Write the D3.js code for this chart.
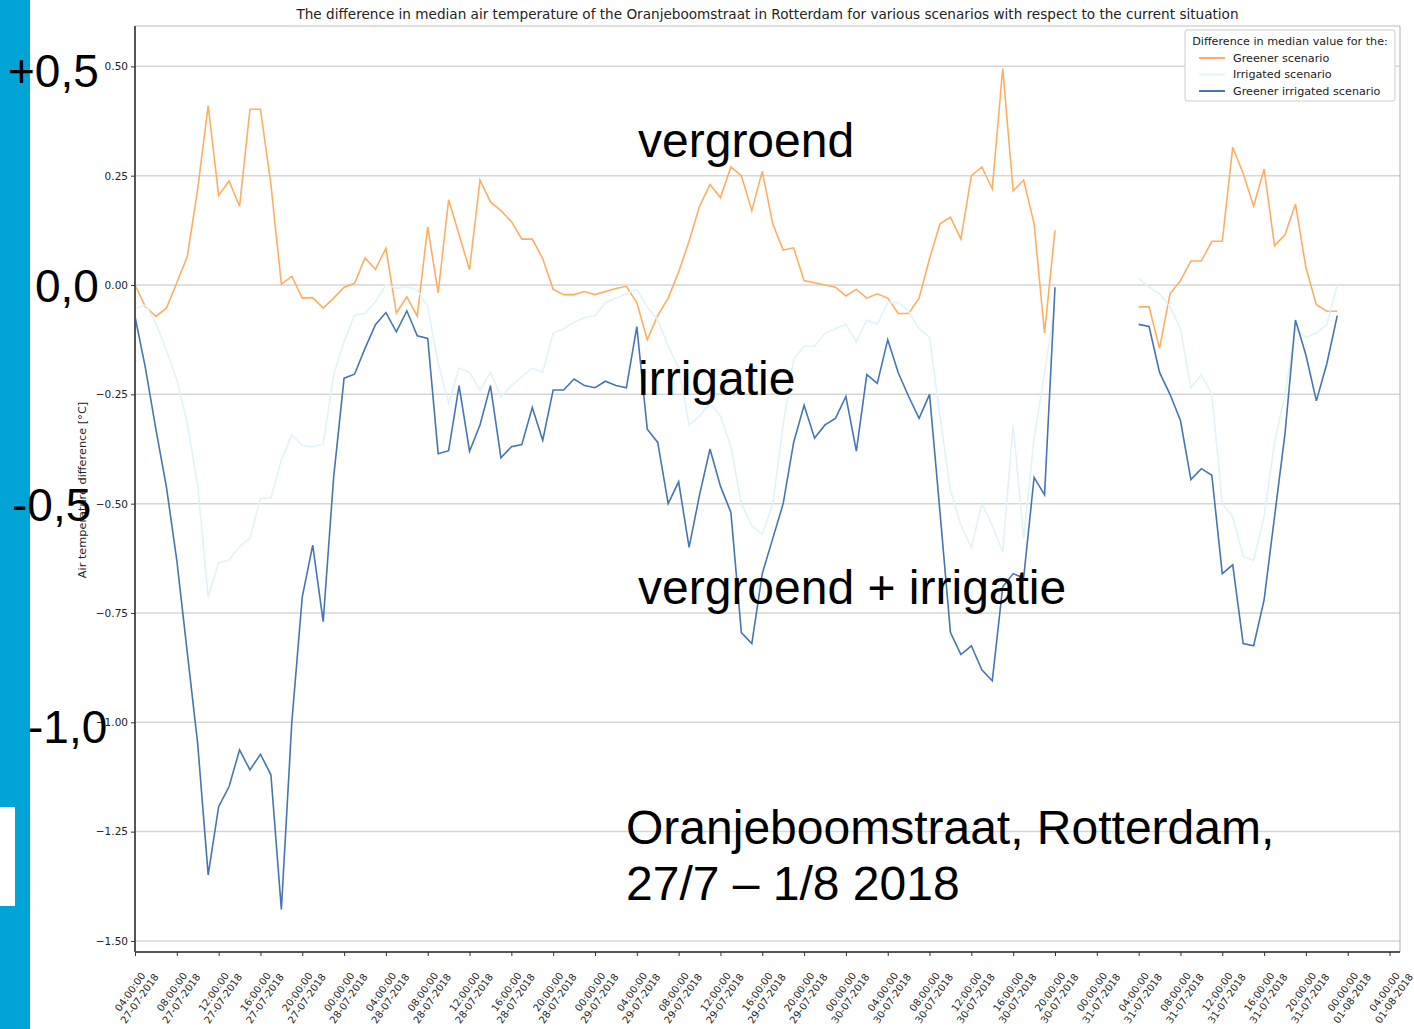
<!DOCTYPE html>
<html>
<head>
<meta charset="utf-8">
<script src="https://cdn.jsdelivr.net/npm/d3@7"></script>
<style>
  body { margin: 0; background: #fff; }
  svg { display: block; }
</style>
</head>
<body>
<svg id="chart" width="1414" height="1029"></svg>
<script>
// hourly values, starting 27-07-2018 04:00 (null = no data)
var greener = [
  0.00, -0.05, -0.072, -0.053, 0.005, 0.065, 0.22, 0.41, 0.205, 0.238,
  0.18, 0.402, 0.402, 0.23, 0.002, 0.02, -0.03, -0.029, -0.053, -0.03,
  -0.005, 0.004, 0.062, 0.036, 0.084, -0.064, -0.027, -0.071, 0.133, -0.018,
  0.195, 0.115, 0.035, 0.24, 0.19, 0.17, 0.145, 0.105, 0.105, 0.06,
  -0.01, -0.022, -0.022, -0.015, -0.022, -0.015, -0.008, -0.003, -0.04, -0.125,
  -0.07, -0.03, 0.03, 0.1, 0.18, 0.23, 0.2, 0.27, 0.25, 0.17,
  0.26, 0.14, 0.08, 0.085, 0.01, 0.005, 0.0, -0.005, -0.025, -0.01,
  -0.03, -0.02, -0.03, -0.065, -0.065, -0.03, 0.06, 0.14, 0.155, 0.105,
  0.25, 0.27, 0.22, 0.495, 0.215, 0.24, 0.14, -0.11, 0.125,
  null, null, null, null, null, null, null,
  -0.05, -0.05, -0.145, -0.02, 0.01, 0.055, 0.055, 0.1, 0.1, 0.315,
  0.255, 0.18, 0.265, 0.09, 0.115, 0.185, 0.04, -0.045, -0.06, -0.06
];

var irrigated = [
  -0.053, -0.046, -0.087, -0.149, -0.217, -0.316, -0.46, -0.713, -0.635, -0.629,
  -0.598, -0.579, -0.487, -0.487, -0.4, -0.343, -0.367, -0.37, -0.364, -0.206,
  -0.13, -0.069, -0.065, -0.038, 0.0, -0.007, -0.004, -0.011, -0.05, -0.179,
  -0.27, -0.19, -0.2, -0.24, -0.2, -0.255, -0.23, -0.21, -0.19, -0.2,
  -0.11, -0.1, -0.085, -0.075, -0.07, -0.04, -0.03, -0.02, -0.01, -0.05,
  -0.08, -0.14, -0.19, -0.32, -0.3, -0.27, -0.3, -0.37, -0.5, -0.55,
  -0.57, -0.5, -0.32, -0.17, -0.14, -0.14, -0.11, -0.1, -0.09, -0.13,
  -0.08, -0.09, -0.04, -0.04, -0.06, -0.1, -0.12, -0.3, -0.47, -0.55,
  -0.6, -0.5, -0.55, -0.61, -0.32, -0.58, -0.35, -0.2, -0.05,
  null, null, null, null, null, null, null,
  0.015, -0.005, -0.02, -0.05, -0.1, -0.235, -0.205, -0.25, -0.5, -0.53,
  -0.62, -0.63, -0.53, -0.36, -0.25, -0.1, -0.12, -0.11, -0.09, 0.0
];

var greenerIrrigated = [
  -0.072, -0.19, -0.33, -0.461, -0.63, -0.84, -1.05, -1.349, -1.193, -1.147,
  -1.063, -1.109, -1.073, -1.12, -1.428, -1.0, -0.713, -0.595, -0.77, -0.44,
  -0.213, -0.204, -0.145, -0.091, -0.063, -0.107, -0.059, -0.116, -0.122, -0.386,
  -0.379, -0.23, -0.38, -0.32, -0.23, -0.395, -0.37, -0.365, -0.28, -0.355,
  -0.24, -0.24, -0.215, -0.23, -0.235, -0.22, -0.23, -0.235, -0.095, -0.33,
  -0.36, -0.5, -0.45, -0.6, -0.48, -0.375, -0.46, -0.52, -0.795, -0.82,
  -0.66, -0.58, -0.5, -0.36, -0.275, -0.35, -0.32, -0.305, -0.255, -0.38,
  -0.205, -0.225, -0.125, -0.2, -0.255, -0.305, -0.25, -0.52, -0.795, -0.845,
  -0.825, -0.88, -0.905, -0.69, -0.66, -0.67, -0.44, -0.48, -0.005,
  null, null, null, null, null, null, null,
  -0.09, -0.095, -0.2, -0.25, -0.31, -0.445, -0.42, -0.435, -0.66, -0.64,
  -0.82, -0.825, -0.72, -0.53, -0.34, -0.08, -0.16, -0.265, -0.18, -0.07
];

var yTicks = [0.5, 0.25, 0, -0.25, -0.5, -0.75, -1.0, -1.25, -1.5];
var seriesNames = ["Greener scenario", "Irrigated scenario", "Greener irrigated scenario"];
var seriesColors = ["#fdae61", "#e0f3f8", "#4575b4"];
var overlayLabels = ["+0,5", "0,0", "-0,5", "-1,0"];

var svg = d3.select("#chart");
var plotL = 135, plotR = 1400, plotT = 26, plotB = 952;
var startTime = new Date(2018, 6, 27, 4);

var x = d3.scaleTime()
    .domain([startTime, new Date(2018, 7, 1, 5)])
    .range([plotL, plotR]);

var y = d3.scaleLinear()
    .domain([-1.5253, 0.5923])
    .range([plotB, plotT]);

function timeAt(i) { return d3.timeHour.offset(startTime, i); }

// horizontal grid
svg.append("g")
    .selectAll("line")
    .data(yTicks)
    .join("line")
    .attr("x1", plotL).attr("x2", plotR)
    .attr("y1", function(d) { return y(d); })
    .attr("y2", function(d) { return y(d); })
    .style("stroke", "#d6d6d6")
    .style("stroke-width", 1.5);

// frame: top/right light, left/bottom dark
svg.append("line").attr("x1", plotL).attr("x2", plotR).attr("y1", plotT).attr("y2", plotT)
    .style("stroke", "#bdbdbd").style("stroke-width", 1.2);
svg.append("line").attr("x1", plotR).attr("x2", plotR).attr("y1", plotT).attr("y2", plotB)
    .style("stroke", "#bdbdbd").style("stroke-width", 1.2);

// series lines
var allSeries = [greener, irrigated, greenerIrrigated];
var line = d3.line()
    .defined(function(d) { return d != null; })
    .x(function(d, i) { return x(timeAt(i)); })
    .y(function(d) { return y(d); });

svg.append("g")
    .selectAll("path")
    .data(allSeries)
    .join("path")
    .attr("d", line)
    .style("fill", "none")
    .style("stroke", function(d, i) { return seriesColors[i]; })
    .style("stroke-width", 1.6);

// y axis
var yAxis = svg.append("g")
    .attr("transform", "translate(" + plotL + ",0)")
    .call(d3.axisLeft(y).tickValues(yTicks).tickSize(4).tickPadding(3)
        .tickFormat(function(d) { return d3.format(".2f")(d).replace("-", "\u2212"); }));
yAxis.select(".domain").attr("d", "M0," + plotT + "V" + plotB).style("stroke", "#555").style("stroke-width", 2);
yAxis.selectAll(".tick line").style("stroke", "#333");
yAxis.selectAll(".tick text")
    .style("font-family", "DejaVu Sans")
    .style("font-size", "10.5px")
    .style("fill", "#222");

// x axis
var xTickValues = d3.timeHour.every(4).range(startTime, new Date(2018, 7, 1, 4, 1));
var xAxis = svg.append("g")
    .attr("transform", "translate(0," + plotB + ")")
    .call(d3.axisBottom(x).tickValues(xTickValues).tickSize(4).tickFormat(""));
xAxis.select(".domain").attr("d", "M" + plotL + ",0H" + plotR).style("stroke", "#555").style("stroke-width", 2);
xAxis.selectAll(".tick line").style("stroke", "#333");

// rotated two-line labels, centred under each tick
var ang = 55 * Math.PI / 180;
var halfH = 29 * Math.sin(ang) + 11.5 * Math.cos(ang);
var xLabels = svg.append("g")
    .selectAll("text")
    .data(xTickValues)
    .join("text")
    .attr("transform", function(d) {
        return "translate(" + x(d) + "," + (plotB + 13 + halfH) + ") rotate(-55)";
    })
    .attr("text-anchor", "middle")
    .style("font-family", "DejaVu Sans")
    .style("font-size", "10px")
    .style("fill", "#222");
xLabels.append("tspan").attr("x", 0).attr("dy", "-0.25em")
    .text(function(d) { return d3.timeFormat("%H:%M:%S")(d); });
xLabels.append("tspan").attr("x", 0).attr("dy", "1.15em")
    .text(function(d) { return d3.timeFormat("%d-%m-%Y")(d); });

// axis label
svg.append("text")
    .attr("transform", "translate(86,490) rotate(-90)")
    .attr("text-anchor", "middle")
    .style("font-family", "DejaVu Sans")
    .style("font-size", "11.3px")
    .style("fill", "#222")
    .text("Air temperature difference [\u00B0C]");

// title
svg.append("text")
    .attr("x", (plotL + plotR) / 2)
    .attr("y", 19)
    .attr("text-anchor", "middle")
    .style("font-family", "DejaVu Sans")
    .style("font-size", "13.6px")
    .style("fill", "#222")
    .text("The difference in median air temperature of the Oranjeboomstraat in Rotterdam for various scenarios with respect to the current situation");

// legend
var legend = svg.append("g").attr("transform", "translate(1185,30)");
legend.append("rect")
    .attr("width", 210).attr("height", 71).attr("rx", 2)
    .style("fill", "#fff").style("stroke", "#cccccc");
legend.append("text")
    .attr("x", 105).attr("y", 15)
    .attr("text-anchor", "middle")
    .style("font-family", "DejaVu Sans").style("font-size", "11.2px").style("fill", "#222")
    .text("Difference in median value for the:");
var items = legend.selectAll(".item")
    .data(seriesNames)
    .join("g")
    .attr("transform", function(d, i) { return "translate(0," + (28 + i * 16.5) + ")"; });
items.append("line")
    .attr("x1", 14).attr("x2", 40)
    .style("stroke", function(d, i) { return seriesColors[i]; })
    .style("stroke-width", 2);
items.append("text")
    .attr("x", 48).attr("y", 3.5)
    .style("font-family", "DejaVu Sans").style("font-size", "11.2px").style("fill", "#222")
    .text(function(d) { return d; });

// presentation overlay
svg.append("rect").attr("x", 0).attr("y", 0).attr("width", 30).attr("height", 1029)
    .style("fill", "#00a5d6");
svg.append("rect").attr("x", 0).attr("y", 807).attr("width", 15).attr("height", 99)
    .style("fill", "#fff");

var overlayPos = [[8, 87], [35, 302], [12, 521], [28, 743]];
svg.append("g")
    .selectAll("text")
    .data(overlayLabels)
    .join("text")
    .attr("x", function(d, i) { return overlayPos[i][0]; })
    .attr("y", function(d, i) { return overlayPos[i][1]; })
    .style("font-family", "Liberation Sans, Arial, sans-serif")
    .style("font-size", "46px")
    .style("fill", "#000")
    .text(function(d) { return d; });

var notes = [
    ["vergroend", 638, 157],
    ["irrigatie", 638, 395],
    ["vergroend + irrigatie", 638, 604],
    ["Oranjeboomstraat, Rotterdam,", 626, 844],
    ["27/7 \u2013 1/8 2018", 626, 900]
];
svg.append("g")
    .selectAll("text")
    .data(notes)
    .join("text")
    .attr("x", function(d) { return d[1]; })
    .attr("y", function(d) { return d[2]; })
    .style("font-family", "Liberation Sans, Arial, sans-serif")
    .style("font-size", "48px")
    .style("fill", "#000")
    .text(function(d) { return d[0]; });
</script>
</body>
</html>
